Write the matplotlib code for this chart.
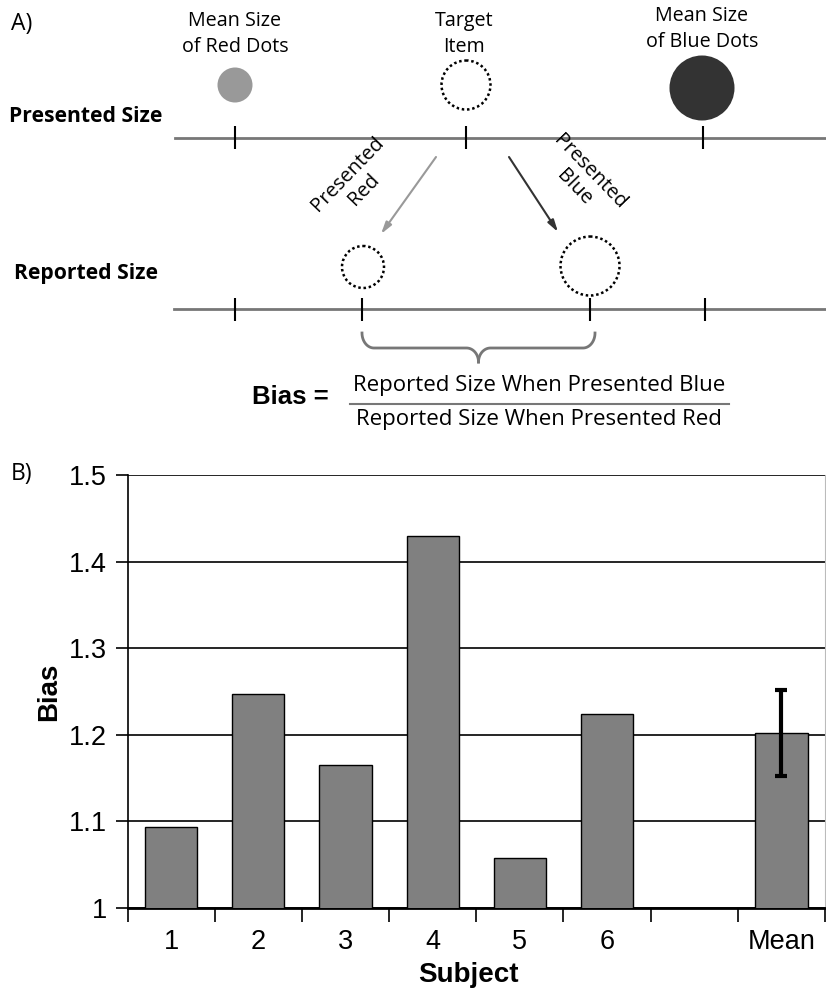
import numpy as np
import matplotlib
matplotlib.use("Agg")
import matplotlib.pyplot as plt
from matplotlib.patches import Circle

# bar chart data (panel B)
subjects = ["1", "2", "3", "4", "5", "6", "", "Mean"]
bias = [1.094, 1.247, 1.165, 1.429, 1.058, 1.224, np.nan, 1.202]
bias_err = [0, 0, 0, 0, 0, 0, 0, 0.05]
yticks = [1.0, 1.1, 1.2, 1.3, 1.4, 1.5]
ytick_labels = ["1", "1.1", "1.2", "1.3", "1.4", "1.5"]

# schematic (panel A), in pixel coords of the figure
presented_ticks = [235, 466, 703]
reported_ticks = [235, 362, 590, 705]
top_labels = ["Mean Size\nof Red Dots", "Target\nItem", "Mean Size\nof Blue Dots"]
top_label_xy = [(235, 34), (464, 34), (702, 29)]

W, H = 826, 991
fig = plt.figure(figsize=(W / 100, H / 100), dpi=100)
myriad = "Open Sans"
arial = "Liberation Sans"

# ---------- panel A ----------
dg = fig.add_axes([0, 0, 1, 1])
dg.set_xlim(0, W)
dg.set_ylim(H, 0)
dg.axis("off")

dg.text(11, 24, "A)", fontsize=16.5, family=myriad, va="center", ha="left")
dg.text(11, 474, "B)", fontsize=16.5, family=myriad, va="center", ha="left")

for (x, y), lab in zip(top_label_xy, top_labels):
    dg.text(x, y, lab, fontsize=14.2, family=myriad, ha="center", va="center",
            linespacing=1.42)

dg.add_patch(Circle((235, 85), 17.5, color="#999999", lw=0))
dg.add_patch(Circle((466, 85), 24.5, fill=False, ec="black", lw=1.8,
                    ls=(0, (1, 1.1))))
dg.add_patch(Circle((702, 88), 32.5, color="#333333", lw=0))

dg.text(9, 116, "Presented Size", fontsize=15.2, family=myriad,
        fontweight="bold", va="center", ha="left")
dg.text(14, 273, "Reported Size", fontsize=15.2, family=myriad,
        fontweight="bold", va="center", ha="left")

dg.plot([175, W], [138, 138], color="#777777", lw=2)
dg.vlines(presented_ticks, 126, 149, color="black", lw=1.5)
dg.plot([174, W], [309, 309], color="#777777", lw=2)
dg.vlines(reported_ticks, 298, 321, color="black", lw=1.5)

dg.annotate("", xy=(381, 234), xytext=(436, 157),
            arrowprops=dict(arrowstyle="-|>,head_length=0.7,head_width=0.2",
                            color="#999999", lw=1.5, shrinkA=0, shrinkB=0))
dg.annotate("", xy=(558, 232), xytext=(509, 157),
            arrowprops=dict(arrowstyle="-|>,head_length=0.7,head_width=0.2",
                            color="#333333", lw=1.5, shrinkA=0, shrinkB=0))
dg.text(356, 182, "Presented\nRed", fontsize=14.5, family=myriad, rotation=46,
        ha="center", va="center", rotation_mode="anchor", linespacing=1.15)
dg.text(582, 180, "Presented\nBlue", fontsize=14.5, family=myriad, rotation=-46,
        ha="center", va="center", rotation_mode="anchor", linespacing=1.15)

dg.add_patch(Circle((363, 267), 21, fill=False, ec="black", lw=1.8,
                    ls=(0, (1, 1.1))))
dg.add_patch(Circle((590, 266), 29.5, fill=False, ec="black", lw=1.8,
                    ls=(0, (1, 1.1))))

# curly brace
bx0, bx1, by0, by1, btip = 362, 595, 333, 348, 362
xm = (bx0 + bx1) / 2
t = np.linspace(0, 1, 30)
r = 12
left_arm = np.concatenate([
    np.column_stack([bx0 + r * (1 - np.cos(t * np.pi / 2)), by0 + (by1 - by0) * np.sin(t * np.pi / 2)]),
    np.column_stack([[bx0 + r, xm - r], [by1, by1]]),
    np.column_stack([xm - r + r * np.sin(t * np.pi / 2), by1 + (btip - by1) * (1 - np.cos(t * np.pi / 2))]),
])
dg.plot(left_arm[:, 0], left_arm[:, 1], color="#777777", lw=2)
dg.plot(2 * xm - left_arm[:, 0], left_arm[:, 1], color="#777777", lw=2)

dg.text(252, 397, "Bias =", fontsize=18.5, family=arial, fontweight="bold",
        ha="left", va="center")
dg.text(539, 385, "Reported Size When Presented Blue", fontsize=16,
        family=myriad, ha="center", va="center")
dg.plot([350, 729], [404, 404], color="#777777", lw=1.5)
dg.text(539, 419, "Reported Size When Presented Red", fontsize=16,
        family=myriad, ha="center", va="center")

# ---------- panel B ----------
left, right, top, bottom = 127.5, 825, 475, 908
ax = fig.add_axes([left / W, 1 - bottom / H, (right - left) / W, (bottom - top) / H])
x = np.arange(len(subjects))
ax.bar(x, bias, width=0.6, color="#808080", edgecolor="black", lw=1, zorder=3)
ax.errorbar(x[-1], bias[-1], yerr=bias_err[-1], color="black", elinewidth=3,
            capsize=4.5, capthick=3, zorder=4)

ax.set_xlim(-0.5, len(subjects) - 0.5)
ax.set_ylim(1.0, 1.5)
ax.set_yticks(yticks)
ax.set_yticklabels(ytick_labels, fontsize=19.5, family=arial)
ax.yaxis.grid(True, color="black", lw=1.2, zorder=0)
ax.tick_params(axis="y", length=9, width=1.2, pad=6)

ax.set_xticks(np.arange(len(subjects) + 1) - 0.5)
ax.set_xticklabels([])
ax.tick_params(axis="x", which="major", length=10, width=1.2, direction="out")
ax.set_xticks(x, minor=True)
ax.set_xticklabels(subjects, minor=True, fontsize=19.5, family=arial)
ax.tick_params(axis="x", which="minor", length=0, pad=15)

ax.spines["top"].set_visible(False)
ax.spines["right"].set_color("#bbbbbb")
ax.spines["left"].set_linewidth(1.2)
ax.spines["bottom"].set_linewidth(2)

ax.text((49 - left) / (right - left), 0.5, "Bias", rotation=90,
        transform=ax.transAxes, fontsize=20, family=arial, fontweight="bold",
        ha="center", va="center")
ax.text((468 - left) / (right - left), -(975 - bottom) / (bottom - top), "Subject",
        transform=ax.transAxes, fontsize=20, family=arial, fontweight="bold",
        ha="center", va="center")

fig.savefig("out.png", dpi=100)
